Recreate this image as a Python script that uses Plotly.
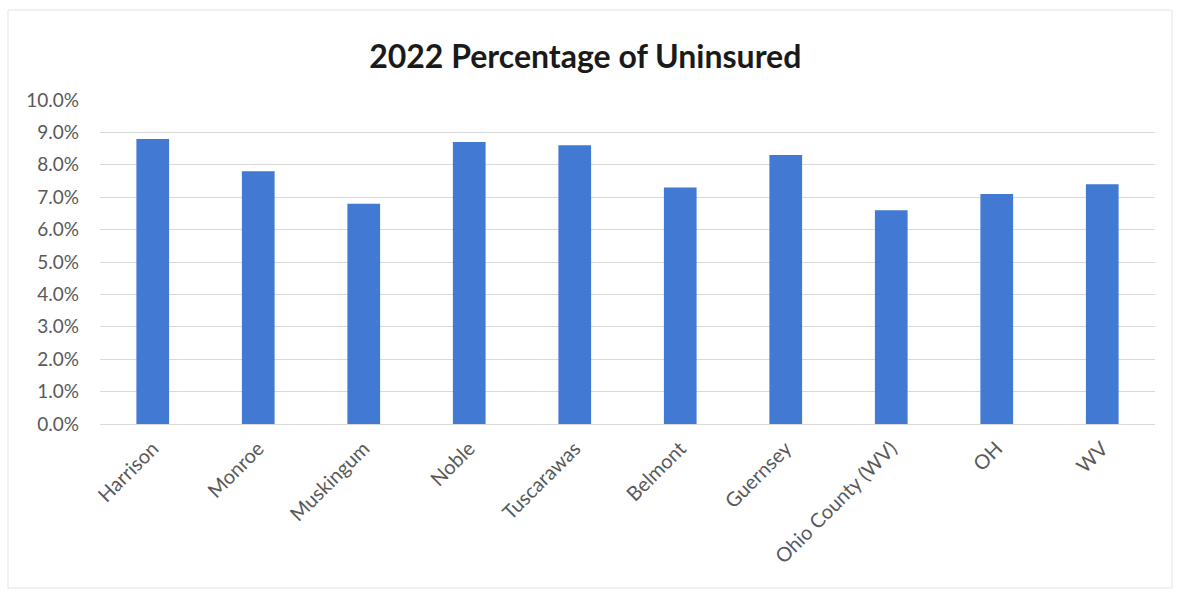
import plotly.graph_objects as go

# Uninsured share by county / state, 2022 (percent)
categories = ["Harrison", "Monroe", "Muskingum", "Noble", "Tuscarawas",
              "Belmont", "Guernsey", "Ohio County (WV)", "OH", "WV"]
uninsured_pct = [8.8, 7.8, 6.8, 8.7, 8.6, 7.3, 8.3, 6.6, 7.1, 7.4]
y_ticks = [0, 1, 2, 3, 4, 5, 6, 7, 8, 9, 10]

BAR_COLOR = "#4179D3"
TEXT_COLOR = "#595959"
GRID_COLOR = "#D9D9D9"
FONT = "Lato, 'Open Sans', sans-serif"

fig = go.Figure(
    go.Bar(
        x=categories,
        y=uninsured_pct,
        marker=dict(color=BAR_COLOR, line=dict(width=0)),
        width=0.31,
        hovertemplate="%{x}: %{y:.1f}%<extra></extra>",
    )
)

fig.update_layout(
    width=1180,
    height=594,
    margin=dict(l=100, r=25, t=100, b=170),
    paper_bgcolor="white",
    plot_bgcolor="white",
    showlegend=False,
    font=dict(family=FONT, color=TEXT_COLOR),
    title=dict(
        text="<b>2022 Percentage of Uninsured</b>",
        x=0.496,
        xanchor="center",
        y=0.904,
        yanchor="middle",
        font=dict(family=FONT, size=32, color="#1a1a1a"),
    ),
)

fig.update_yaxes(
    range=[0, 10],
    tickvals=y_ticks,
    ticktext=[f"{v:.1f}%" for v in y_ticks],
    tickfont=dict(size=19, color=TEXT_COLOR),
    showgrid=True,
    gridcolor=GRID_COLOR,
    gridwidth=1,
    zeroline=False,
    showline=False,
    ticks="",
    ticklabelstandoff=20,
    automargin=False,
)

fig.update_xaxes(
    tickangle=-45,
    tickfont=dict(size=20, color=TEXT_COLOR),
    showline=True,
    linecolor=GRID_COLOR,
    linewidth=1,
    showgrid=False,
    ticks="",
    ticklabelstandoff=4,
    automargin=False,
)

# light outline around the chart area
fig.add_shape(
    type="rect",
    xref="paper", yref="paper",
    x0=-92 / 1055, x1=1 + 17 / 1055,
    y0=-164 / 324, y1=1 + 90 / 324,
    line=dict(color="#E3E3E3", width=1),
    fillcolor="rgba(0,0,0,0)",
    layer="below",
)

fig.write_html("out.html")
